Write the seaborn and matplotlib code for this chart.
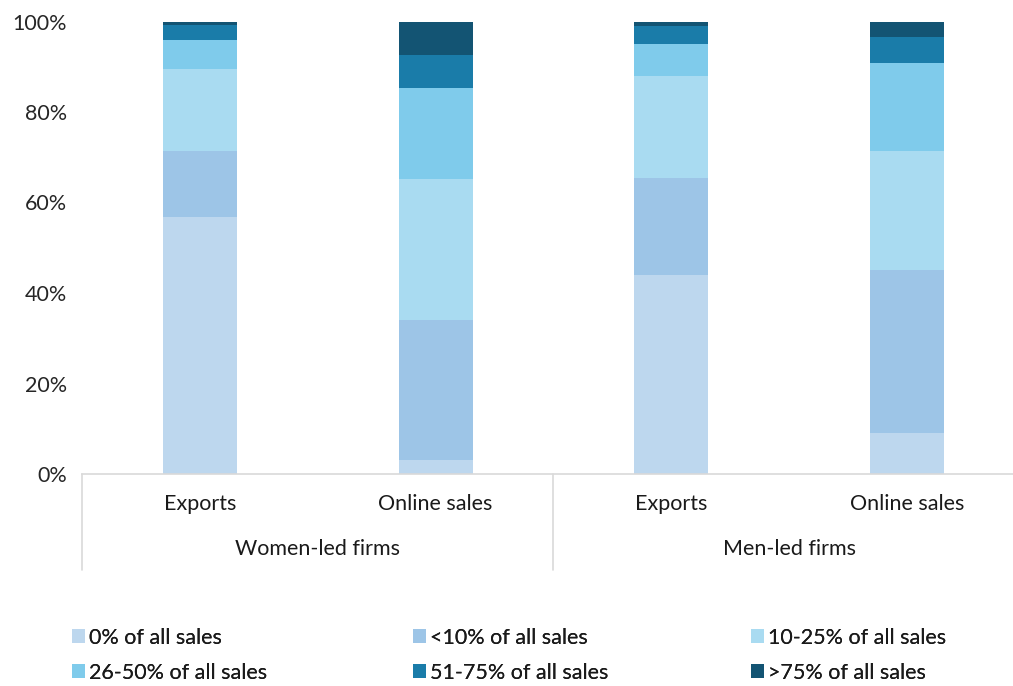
import numpy as np
import pandas as pd
import matplotlib
matplotlib.use("Agg")
import matplotlib.pyplot as plt
from matplotlib.patches import Patch
import seaborn as sns

# Share of firms by share of sales (%), per firm type and sales channel
groups = ["Women-led firms", "Women-led firms", "Men-led firms", "Men-led firms"]
channels = ["Exports", "Online sales", "Exports", "Online sales"]
bands = ["0% of all sales", "<10% of all sales", "10-25% of all sales",
         "26-50% of all sales", "51-75% of all sales", ">75% of all sales"]
share_0 = [56.9, 3.1, 44.0, 9.1]
share_lt10 = [14.5, 31.0, 21.5, 36.0]
share_10_25 = [18.1, 31.1, 22.5, 26.3]
share_26_50 = [6.4, 20.1, 7.0, 19.4]
share_51_75 = [3.3, 7.4, 4.0, 5.8]
share_gt75 = [0.8, 7.3, 1.0, 3.4]

colors = ["#BDD7EE", "#9DC5E7", "#A9DBF1", "#7FCBEB", "#1A7CA9", "#135473"]

series = [share_0, share_lt10, share_10_25, share_26_50, share_51_75, share_gt75]
bar_ids = [f"{g} | {c}" for g, c in zip(groups, channels)]

sns.set_theme(style="white")
plt.rcParams["font.family"] = ["Lato", "DejaVu Sans"]
plt.rcParams["text.color"] = "#1a1a1a"
FS = 15.5

W, H = 1013, 686
fig = plt.figure(figsize=(W / 100, H / 100), dpi=100)
x0, x1 = 82, 1013
y_base, y_top = 474, 21.5
ax = fig.add_axes([x0 / W, 1 - y_base / H, (x1 - x0) / W, (y_base - y_top) / H])

# Stacked bars: draw cumulative totals from the top band downwards
cum = np.cumsum(np.array(series), axis=0)
for i in range(len(series) - 1, -1, -1):
    df = pd.DataFrame({"bar": bar_ids, "value": cum[i]})
    sns.barplot(data=df, x="bar", y="value", order=bar_ids, color=colors[i],
                width=0.314, saturation=1, linewidth=0, ax=ax)

px_per_unit = 235.7
ax.set_xlim(-0.5, -0.5 + (x1 - x0) / px_per_unit)
ax.set_ylim(0, 100)
ax.set_yticks(range(0, 101, 20))
ax.set_yticklabels([f"{v}%" for v in range(0, 101, 20)], fontsize=FS)
ax.tick_params(axis="y", length=0, pad=11)
ax.set_xticks([])
ax.set_xlabel("")
ax.set_ylabel("")
for s in ["top", "right", "left"]:
    ax.spines[s].set_visible(False)
ax.spines["bottom"].set_color("#d9d9d9")
ax.spines["bottom"].set_linewidth(1.2)

# Two-level category axis
trans = ax.get_xaxis_transform()
span = y_base - y_top
for xb in [-0.5, 1.5, 3.5]:
    ax.plot([xb, xb], [0, -(570 - y_base) / span], transform=trans,
            color="#d9d9d9", lw=1.2, clip_on=False)
for i, ch in enumerate(channels):
    ax.text(i, -(504 - y_base) / span, ch, transform=trans, ha="center",
            va="center", fontsize=FS)
for gi, g in enumerate(["Women-led firms", "Men-led firms"]):
    ax.text(gi * 2 + 0.5, -(549 - y_base) / span, g, transform=trans,
            ha="center", va="center", fontsize=FS)

# Legend: three columns of two entries each
handles = [Patch(facecolor=c, edgecolor="none") for c in colors]
for col, xpos in enumerate([72, 413, 751]):
    idx = [col, col + 3]
    leg = fig.legend([handles[k] for k in idx], [bands[k] for k in idx],
                     ncol=1, loc="center left",
                     bbox_to_anchor=(xpos / W, 1 - 655.5 / H),
                     frameon=False, fontsize=FS, handlelength=0.62,
                     handleheight=0.62, handletextpad=0.15, labelspacing=0.7,
                     borderpad=0, borderaxespad=0)
    fig.add_artist(leg)

fig.savefig("out.png", dpi=100)
